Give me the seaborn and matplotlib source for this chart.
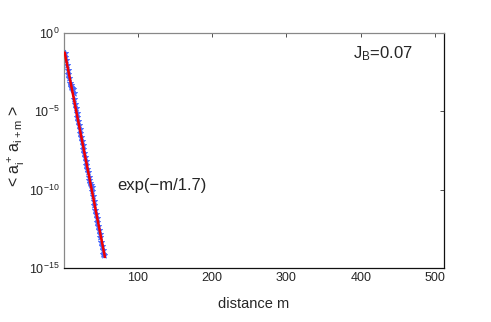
import numpy as np
import pandas as pd
import matplotlib
matplotlib.use("Agg")
import matplotlib.pyplot as plt
import seaborn as sns
from matplotlib.ticker import FixedLocator, NullLocator

# data
m_vals = list(range(2, 56))
log_corr = [-1.3, -1.5, -1.75, -2.05, -2.35, -2.6, -2.9, -3.2, -3.35, -3.45,
            -3.5, -3.6, -3.8, -4.2, -4.55, -4.8, -5.1, -5.35, -5.6, -5.85,
            -6.1, -6.4, -6.65, -6.9, -7.15, -7.4, -7.65, -7.9, -8.15, -8.4,
            -8.65, -8.9, -9.2, -9.4, -9.55, -9.7, -9.85, -10.1, -10.4, -10.7,
            -11.0, -11.3, -11.55, -11.8, -12.05, -12.3, -12.55, -12.8, -13.05, -13.35,
            -13.6, -13.85, -14.1, -14.2]
fit_m = [2, 56]
fit_log = [-1.25, -14.3]
x_ticks = [100, 200, 300, 400, 500]
y_ticks = [1e-15, 1e-10, 1e-5, 1e0]
y_tick_labels = [r'$10^{-15}$', r'$10^{-10}$', r'$10^{-5}$', r'$10^{0}$']

sns.set_theme(style="white")
plt.rcParams['font.family'] = ['Liberation Sans', 'DejaVu Sans']
plt.rcParams['mathtext.fontset'] = 'custom'
plt.rcParams['mathtext.rm'] = 'Liberation Sans'
plt.rcParams['mathtext.it'] = 'Liberation Sans'

df = pd.DataFrame({"m": m_vals, "c": [10 ** v for v in log_corr]})
fit = pd.DataFrame({"m": fit_m, "c": [10 ** v for v in fit_log]})

fig = plt.figure(figsize=(4.91, 3.22), dpi=100)
ax = fig.add_axes([64 / 491, 1 - 268 / 322, (444 - 64) / 491, (268 - 33) / 322])

sns.scatterplot(data=df, x="m", y="c", ax=ax, marker="*", s=22, color="#4466ff",
                edgecolor="#4466ff", linewidth=0.6, legend=False, zorder=2)
sns.lineplot(data=fit, x="m", y="c", ax=ax, color="#ee0000", linewidth=1.8,
             legend=False, zorder=3)

ax.set_yscale("log")
ax.set_xlim(1, 512)
ax.set_ylim(1e-15, 1e0)
ax.xaxis.set_major_locator(FixedLocator(x_ticks))
ax.yaxis.set_major_locator(FixedLocator(y_ticks))
ax.yaxis.set_minor_locator(NullLocator())
ax.set_yticklabels(y_tick_labels)
ax.tick_params(direction="in", top=True, right=True, labelsize=9, length=3,
               width=0.6, color="#333333", pad=3)
for side, s in ax.spines.items():
    s.set_linewidth(0.9)
    s.set_color("#888888" if side in ("left", "top") else "#111111")

ax.set_xlabel("distance m", fontsize=10.5, labelpad=9)
ax.set_ylabel(r"< $\mathregular{a_i^+\,a_{i+m}}$ >", fontsize=11.5)
ax.yaxis.set_label_coords(-0.097, 0.52)
ax.text(73, 10 ** -9.75, "exp(\u2212m/1.7)", fontsize=12, va="center", ha="left")
ax.text(389, 10 ** -1.3, r"$\mathregular{J_B}$=0.07", fontsize=12, va="center", ha="left")

fig.savefig("out.png", dpi=100)
